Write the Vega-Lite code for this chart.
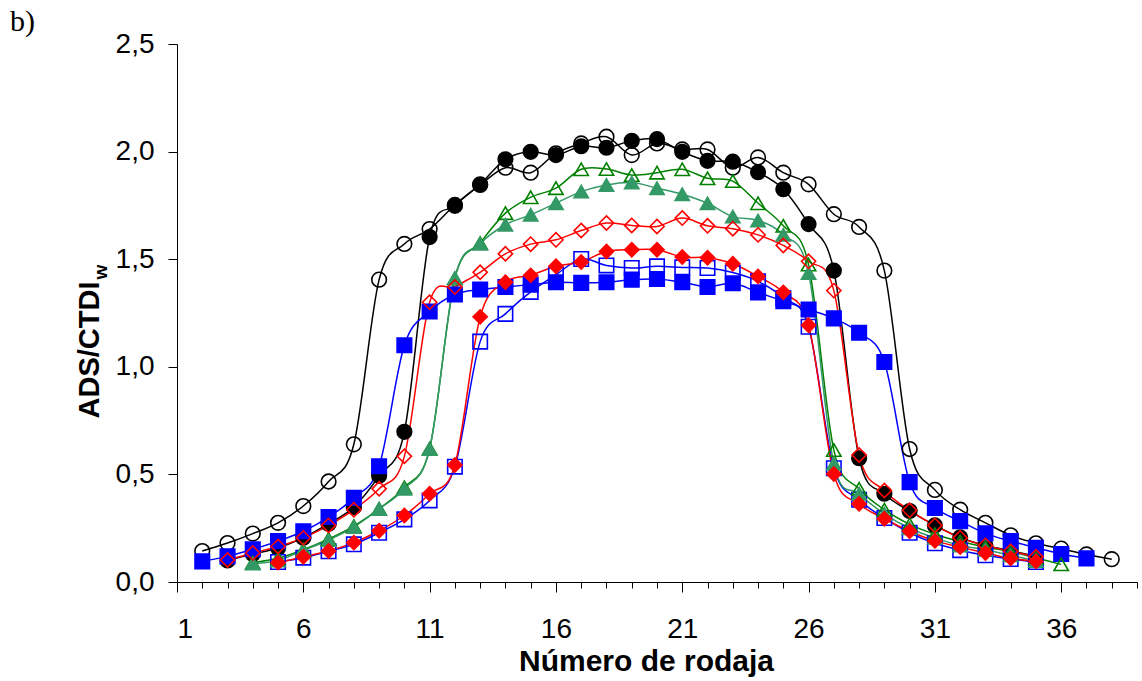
{
  "$schema": "https://vega.github.io/schema/vega-lite/v6.json",
  "width": 960,
  "height": 538,
  "autosize": {"type": "none"},
  "padding": {"left": 177, "top": 44, "right": 5, "bottom": 99},
  "background": "white",
  "config": {
    "view": {"stroke": null},
    "axis": {
      "grid": false,
      "domainColor": "black",
      "domainWidth": 1,
      "tickColor": "black",
      "tickWidth": 1,
      "labelColor": "black",
      "titleColor": "black",
      "labelFont": "Liberation Sans",
      "titleFont": "Liberation Sans",
      "labelOverlap": false
    },
    "axisX": {"labelOverlap": false}
  },
  "title": {
    "text": "b)",
    "font": "Liberation Serif",
    "fontSize": 30,
    "fontWeight": "normal",
    "color": "black",
    "anchor": "start",
    "frame": "group",
    "baseline": "alphabetic",
    "offset": 0,
    "dx": -167,
    "dy": 31
  },
  "data": {
    "values": [
      {"serie": "Serie 1", "x": 2, "y": 0.144}, {"serie": "Serie 1", "x": 3, "y": 0.181}, {"serie": "Serie 1", "x": 4, "y": 0.225}, {"serie": "Serie 1", "x": 5, "y": 0.275}, {"serie": "Serie 1", "x": 6, "y": 0.353}, {"serie": "Serie 1", "x": 7, "y": 0.467}, {"serie": "Serie 1", "x": 8, "y": 0.640}, {"serie": "Serie 1", "x": 9, "y": 1.405}, {"serie": "Serie 1", "x": 10, "y": 1.571}, {"serie": "Serie 1", "x": 11, "y": 1.640}, {"serie": "Serie 1", "x": 12, "y": 1.752}, {"serie": "Serie 1", "x": 13, "y": 1.845}, {"serie": "Serie 1", "x": 14, "y": 1.925}, {"serie": "Serie 1", "x": 15, "y": 1.902}, {"serie": "Serie 1", "x": 16, "y": 1.992}, {"serie": "Serie 1", "x": 17, "y": 2.038}, {"serie": "Serie 1", "x": 18, "y": 2.069}, {"serie": "Serie 1", "x": 19, "y": 1.984}, {"serie": "Serie 1", "x": 20, "y": 2.038}, {"serie": "Serie 1", "x": 21, "y": 2.010}, {"serie": "Serie 1", "x": 22, "y": 2.010}, {"serie": "Serie 1", "x": 23, "y": 1.925}, {"serie": "Serie 1", "x": 24, "y": 1.973}, {"serie": "Serie 1", "x": 25, "y": 1.902}, {"serie": "Serie 1", "x": 26, "y": 1.848}, {"serie": "Serie 1", "x": 27, "y": 1.709}, {"serie": "Serie 1", "x": 28, "y": 1.650}, {"serie": "Serie 1", "x": 29, "y": 1.447}, {"serie": "Serie 1", "x": 30, "y": 0.618}, {"serie": "Serie 1", "x": 31, "y": 0.428}, {"serie": "Serie 1", "x": 32, "y": 0.336}, {"serie": "Serie 1", "x": 33, "y": 0.275}, {"serie": "Serie 1", "x": 34, "y": 0.217}, {"serie": "Serie 1", "x": 35, "y": 0.180}, {"serie": "Serie 1", "x": 36, "y": 0.155}, {"serie": "Serie 1", "x": 37, "y": 0.128}, {"serie": "Serie 1", "x": 38, "y": 0.106},

      {"serie": "Serie 2", "x": 3, "y": 0.100}, {"serie": "Serie 2", "x": 4, "y": 0.130}, {"serie": "Serie 2", "x": 5, "y": 0.158}, {"serie": "Serie 2", "x": 6, "y": 0.206}, {"serie": "Serie 2", "x": 7, "y": 0.271}, {"serie": "Serie 2", "x": 8, "y": 0.348}, {"serie": "Serie 2", "x": 9, "y": 0.494}, {"serie": "Serie 2", "x": 10, "y": 0.698}, {"serie": "Serie 2", "x": 11, "y": 1.603}, {"serie": "Serie 2", "x": 12, "y": 1.748}, {"serie": "Serie 2", "x": 13, "y": 1.848}, {"serie": "Serie 2", "x": 14, "y": 1.964}, {"serie": "Serie 2", "x": 15, "y": 1.999}, {"serie": "Serie 2", "x": 16, "y": 1.984}, {"serie": "Serie 2", "x": 17, "y": 2.025}, {"serie": "Serie 2", "x": 18, "y": 2.018}, {"serie": "Serie 2", "x": 19, "y": 2.050}, {"serie": "Serie 2", "x": 20, "y": 2.058}, {"serie": "Serie 2", "x": 21, "y": 1.999}, {"serie": "Serie 2", "x": 22, "y": 1.957}, {"serie": "Serie 2", "x": 23, "y": 1.953}, {"serie": "Serie 2", "x": 24, "y": 1.904}, {"serie": "Serie 2", "x": 25, "y": 1.825}, {"serie": "Serie 2", "x": 26, "y": 1.663}, {"serie": "Serie 2", "x": 27, "y": 1.447}, {"serie": "Serie 2", "x": 28, "y": 0.575}, {"serie": "Serie 2", "x": 29, "y": 0.410}, {"serie": "Serie 2", "x": 30, "y": 0.330}, {"serie": "Serie 2", "x": 31, "y": 0.263}, {"serie": "Serie 2", "x": 32, "y": 0.207}, {"serie": "Serie 2", "x": 33, "y": 0.170}, {"serie": "Serie 2", "x": 34, "y": 0.145}, {"serie": "Serie 2", "x": 35, "y": 0.120},

      {"serie": "Serie 3", "x": 2, "y": 0.096}, {"serie": "Serie 3", "x": 3, "y": 0.119}, {"serie": "Serie 3", "x": 4, "y": 0.152}, {"serie": "Serie 3", "x": 5, "y": 0.190}, {"serie": "Serie 3", "x": 6, "y": 0.236}, {"serie": "Serie 3", "x": 7, "y": 0.302}, {"serie": "Serie 3", "x": 8, "y": 0.391}, {"serie": "Serie 3", "x": 9, "y": 0.538}, {"serie": "Serie 3", "x": 10, "y": 1.100}, {"serie": "Serie 3", "x": 11, "y": 1.257}, {"serie": "Serie 3", "x": 12, "y": 1.336}, {"serie": "Serie 3", "x": 13, "y": 1.359}, {"serie": "Serie 3", "x": 14, "y": 1.371}, {"serie": "Serie 3", "x": 15, "y": 1.382}, {"serie": "Serie 3", "x": 16, "y": 1.393}, {"serie": "Serie 3", "x": 17, "y": 1.390}, {"serie": "Serie 3", "x": 18, "y": 1.393}, {"serie": "Serie 3", "x": 19, "y": 1.405}, {"serie": "Serie 3", "x": 20, "y": 1.408}, {"serie": "Serie 3", "x": 21, "y": 1.393}, {"serie": "Serie 3", "x": 22, "y": 1.371}, {"serie": "Serie 3", "x": 23, "y": 1.388}, {"serie": "Serie 3", "x": 24, "y": 1.346}, {"serie": "Serie 3", "x": 25, "y": 1.305}, {"serie": "Serie 3", "x": 26, "y": 1.266}, {"serie": "Serie 3", "x": 27, "y": 1.225}, {"serie": "Serie 3", "x": 28, "y": 1.158}, {"serie": "Serie 3", "x": 29, "y": 1.022}, {"serie": "Serie 3", "x": 30, "y": 0.464}, {"serie": "Serie 3", "x": 31, "y": 0.344}, {"serie": "Serie 3", "x": 32, "y": 0.283}, {"serie": "Serie 3", "x": 33, "y": 0.226}, {"serie": "Serie 3", "x": 34, "y": 0.190}, {"serie": "Serie 3", "x": 35, "y": 0.159}, {"serie": "Serie 3", "x": 36, "y": 0.130}, {"serie": "Serie 3", "x": 37, "y": 0.110},

      {"serie": "Serie 4", "x": 5, "y": 0.093}, {"serie": "Serie 4", "x": 6, "y": 0.113}, {"serie": "Serie 4", "x": 7, "y": 0.143}, {"serie": "Serie 4", "x": 8, "y": 0.175}, {"serie": "Serie 4", "x": 9, "y": 0.229}, {"serie": "Serie 4", "x": 10, "y": 0.291}, {"serie": "Serie 4", "x": 11, "y": 0.379}, {"serie": "Serie 4", "x": 12, "y": 0.536}, {"serie": "Serie 4", "x": 13, "y": 1.117}, {"serie": "Serie 4", "x": 14, "y": 1.246}, {"serie": "Serie 4", "x": 15, "y": 1.348}, {"serie": "Serie 4", "x": 16, "y": 1.428}, {"serie": "Serie 4", "x": 17, "y": 1.501}, {"serie": "Serie 4", "x": 18, "y": 1.471}, {"serie": "Serie 4", "x": 19, "y": 1.459}, {"serie": "Serie 4", "x": 20, "y": 1.467}, {"serie": "Serie 4", "x": 21, "y": 1.462}, {"serie": "Serie 4", "x": 22, "y": 1.459}, {"serie": "Serie 4", "x": 23, "y": 1.438}, {"serie": "Serie 4", "x": 24, "y": 1.397}, {"serie": "Serie 4", "x": 25, "y": 1.320}, {"serie": "Serie 4", "x": 26, "y": 1.186}, {"serie": "Serie 4", "x": 27, "y": 0.529}, {"serie": "Serie 4", "x": 28, "y": 0.382}, {"serie": "Serie 4", "x": 29, "y": 0.297}, {"serie": "Serie 4", "x": 30, "y": 0.229}, {"serie": "Serie 4", "x": 31, "y": 0.180}, {"serie": "Serie 4", "x": 32, "y": 0.148}, {"serie": "Serie 4", "x": 33, "y": 0.124}, {"serie": "Serie 4", "x": 34, "y": 0.107}, {"serie": "Serie 4", "x": 35, "y": 0.093},

      {"serie": "Serie 5", "x": 4, "y": 0.090}, {"serie": "Serie 5", "x": 5, "y": 0.110}, {"serie": "Serie 5", "x": 6, "y": 0.150}, {"serie": "Serie 5", "x": 7, "y": 0.200}, {"serie": "Serie 5", "x": 8, "y": 0.260}, {"serie": "Serie 5", "x": 9, "y": 0.340}, {"serie": "Serie 5", "x": 10, "y": 0.440}, {"serie": "Serie 5", "x": 11, "y": 0.620}, {"serie": "Serie 5", "x": 12, "y": 1.410}, {"serie": "Serie 5", "x": 13, "y": 1.575}, {"serie": "Serie 5", "x": 14, "y": 1.714}, {"serie": "Serie 5", "x": 15, "y": 1.788}, {"serie": "Serie 5", "x": 16, "y": 1.830}, {"serie": "Serie 5", "x": 17, "y": 1.918}, {"serie": "Serie 5", "x": 18, "y": 1.919}, {"serie": "Serie 5", "x": 19, "y": 1.891}, {"serie": "Serie 5", "x": 20, "y": 1.902}, {"serie": "Serie 5", "x": 21, "y": 1.918}, {"serie": "Serie 5", "x": 22, "y": 1.876}, {"serie": "Serie 5", "x": 23, "y": 1.863}, {"serie": "Serie 5", "x": 24, "y": 1.760}, {"serie": "Serie 5", "x": 25, "y": 1.655}, {"serie": "Serie 5", "x": 26, "y": 1.475}, {"serie": "Serie 5", "x": 27, "y": 0.613}, {"serie": "Serie 5", "x": 28, "y": 0.433}, {"serie": "Serie 5", "x": 29, "y": 0.336}, {"serie": "Serie 5", "x": 30, "y": 0.268}, {"serie": "Serie 5", "x": 31, "y": 0.222}, {"serie": "Serie 5", "x": 32, "y": 0.188}, {"serie": "Serie 5", "x": 33, "y": 0.163}, {"serie": "Serie 5", "x": 34, "y": 0.140}, {"serie": "Serie 5", "x": 35, "y": 0.112}, {"serie": "Serie 5", "x": 36, "y": 0.082},

      {"serie": "Serie 6", "x": 4, "y": 0.086}, {"serie": "Serie 6", "x": 5, "y": 0.100}, {"serie": "Serie 6", "x": 6, "y": 0.147}, {"serie": "Serie 6", "x": 7, "y": 0.195}, {"serie": "Serie 6", "x": 8, "y": 0.255}, {"serie": "Serie 6", "x": 9, "y": 0.340}, {"serie": "Serie 6", "x": 10, "y": 0.433}, {"serie": "Serie 6", "x": 11, "y": 0.618}, {"serie": "Serie 6", "x": 12, "y": 1.413}, {"serie": "Serie 6", "x": 13, "y": 1.572}, {"serie": "Serie 6", "x": 14, "y": 1.660}, {"serie": "Serie 6", "x": 15, "y": 1.706}, {"serie": "Serie 6", "x": 16, "y": 1.760}, {"serie": "Serie 6", "x": 17, "y": 1.814}, {"serie": "Serie 6", "x": 18, "y": 1.845}, {"serie": "Serie 6", "x": 19, "y": 1.856}, {"serie": "Serie 6", "x": 20, "y": 1.830}, {"serie": "Serie 6", "x": 21, "y": 1.802}, {"serie": "Serie 6", "x": 22, "y": 1.760}, {"serie": "Serie 6", "x": 23, "y": 1.698}, {"serie": "Serie 6", "x": 24, "y": 1.680}, {"serie": "Serie 6", "x": 25, "y": 1.613}, {"serie": "Serie 6", "x": 26, "y": 1.436}, {"serie": "Serie 6", "x": 27, "y": 0.549}, {"serie": "Serie 6", "x": 28, "y": 0.410}, {"serie": "Serie 6", "x": 29, "y": 0.317}, {"serie": "Serie 6", "x": 30, "y": 0.250}, {"serie": "Serie 6", "x": 31, "y": 0.205}, {"serie": "Serie 6", "x": 32, "y": 0.170}, {"serie": "Serie 6", "x": 33, "y": 0.150}, {"serie": "Serie 6", "x": 34, "y": 0.124}, {"serie": "Serie 6", "x": 35, "y": 0.098},

      {"serie": "Serie 7", "x": 3, "y": 0.102}, {"serie": "Serie 7", "x": 4, "y": 0.135}, {"serie": "Serie 7", "x": 5, "y": 0.165}, {"serie": "Serie 7", "x": 6, "y": 0.205}, {"serie": "Serie 7", "x": 7, "y": 0.263}, {"serie": "Serie 7", "x": 8, "y": 0.336}, {"serie": "Serie 7", "x": 9, "y": 0.433}, {"serie": "Serie 7", "x": 10, "y": 0.584}, {"serie": "Serie 7", "x": 11, "y": 1.300}, {"serie": "Serie 7", "x": 12, "y": 1.371}, {"serie": "Serie 7", "x": 13, "y": 1.439}, {"serie": "Serie 7", "x": 14, "y": 1.525}, {"serie": "Serie 7", "x": 15, "y": 1.570}, {"serie": "Serie 7", "x": 16, "y": 1.590}, {"serie": "Serie 7", "x": 17, "y": 1.633}, {"serie": "Serie 7", "x": 18, "y": 1.668}, {"serie": "Serie 7", "x": 19, "y": 1.657}, {"serie": "Serie 7", "x": 20, "y": 1.652}, {"serie": "Serie 7", "x": 21, "y": 1.691}, {"serie": "Serie 7", "x": 22, "y": 1.655}, {"serie": "Serie 7", "x": 23, "y": 1.642}, {"serie": "Serie 7", "x": 24, "y": 1.613}, {"serie": "Serie 7", "x": 25, "y": 1.564}, {"serie": "Serie 7", "x": 26, "y": 1.490}, {"serie": "Serie 7", "x": 27, "y": 1.354}, {"serie": "Serie 7", "x": 28, "y": 0.590}, {"serie": "Serie 7", "x": 29, "y": 0.425}, {"serie": "Serie 7", "x": 30, "y": 0.333}, {"serie": "Serie 7", "x": 31, "y": 0.263}, {"serie": "Serie 7", "x": 32, "y": 0.205}, {"serie": "Serie 7", "x": 33, "y": 0.170}, {"serie": "Serie 7", "x": 34, "y": 0.143}, {"serie": "Serie 7", "x": 35, "y": 0.117},

      {"serie": "Serie 8", "x": 5, "y": 0.090}, {"serie": "Serie 8", "x": 6, "y": 0.117}, {"serie": "Serie 8", "x": 7, "y": 0.144}, {"serie": "Serie 8", "x": 8, "y": 0.183}, {"serie": "Serie 8", "x": 9, "y": 0.238}, {"serie": "Serie 8", "x": 10, "y": 0.309}, {"serie": "Serie 8", "x": 11, "y": 0.410}, {"serie": "Serie 8", "x": 12, "y": 0.544}, {"serie": "Serie 8", "x": 13, "y": 1.232}, {"serie": "Serie 8", "x": 14, "y": 1.393}, {"serie": "Serie 8", "x": 15, "y": 1.425}, {"serie": "Serie 8", "x": 16, "y": 1.467}, {"serie": "Serie 8", "x": 17, "y": 1.487}, {"serie": "Serie 8", "x": 18, "y": 1.536}, {"serie": "Serie 8", "x": 19, "y": 1.544}, {"serie": "Serie 8", "x": 20, "y": 1.544}, {"serie": "Serie 8", "x": 21, "y": 1.510}, {"serie": "Serie 8", "x": 22, "y": 1.507}, {"serie": "Serie 8", "x": 23, "y": 1.479}, {"serie": "Serie 8", "x": 24, "y": 1.420}, {"serie": "Serie 8", "x": 25, "y": 1.346}, {"serie": "Serie 8", "x": 26, "y": 1.193}, {"serie": "Serie 8", "x": 27, "y": 0.502}, {"serie": "Serie 8", "x": 28, "y": 0.363}, {"serie": "Serie 8", "x": 29, "y": 0.294}, {"serie": "Serie 8", "x": 30, "y": 0.236}, {"serie": "Serie 8", "x": 31, "y": 0.191}, {"serie": "Serie 8", "x": 32, "y": 0.162}, {"serie": "Serie 8", "x": 33, "y": 0.135}, {"serie": "Serie 8", "x": 34, "y": 0.110}, {"serie": "Serie 8", "x": 35, "y": 0.096}
    ]
  },
  "layer": [
    {
      "mark": {"type": "line", "interpolate": "cardinal", "strokeWidth": 1.5},
      "encoding": {
        "x": {
          "field": "x",
          "type": "quantitative",
          "scale": {"domain": [1, 39], "nice": false, "zero": false},
          "axis": {
            "values": [1, 2, 3, 4, 5, 6, 7, 8, 9, 10, 11, 12, 13, 14, 15, 16, 17, 18, 19, 20, 21, 22, 23, 24, 25, 26, 27, 28, 29, 30, 31, 32, 33, 34, 35, 36, 37, 38, 39],
            "labelExpr": "(datum.value - 1) % 5 === 0 ? datum.label : ''",
            "labelOverlap": false,
            "labelFontSize": 28,
            "labelBaseline": "alphabetic",
            "labelPadding": 45,
            "tickSize": {"condition": {"test": "(datum.value - 1) % 5 === 0", "value": 10}, "value": 6},
            "title": "Número de rodaja",
            "titleFontSize": 30,
            "titleFontWeight": "bold",
            "titleAlign": "center",
            "titleBaseline": "alphabetic",
            "titleX": 469,
            "titleY": 88
          }
        },
        "y": {
          "field": "y",
          "type": "quantitative",
          "scale": {"domain": [0, 2.5], "nice": false},
          "axis": {
            "values": [0, 0.5, 1, 1.5, 2, 2.5],
            "labelExpr": "replace(format(datum.value, '.1f'), '.', ',')",
            "labelFontSize": 28,
            "tickSize": 9,
            "labelPadding": 14,
            "title": "ADS/CTDI",
            "titleFontSize": 29,
            "titleFontWeight": "bold",
            "titleAngle": -90,
            "titleAlign": "left",
            "titleBaseline": "alphabetic",
            "titleX": -79,
            "titleY": 374
          }
        },
        "stroke": {
          "field": "serie",
          "type": "nominal",
          "scale": {
            "domain": ["Serie 1", "Serie 2", "Serie 3", "Serie 4", "Serie 5", "Serie 6", "Serie 7", "Serie 8"],
            "range": ["#000000", "#000000", "#0000ff", "#0000ff", "#008000", "#339966", "#ff0000", "#ff0000"]
          },
          "legend": null
        }
      }
    },
    {
      "mark": {"type": "point", "filled": true, "opacity": 1, "strokeWidth": 1.6},
      "encoding": {
        "x": {
          "field": "x",
          "type": "quantitative",
          "axis": {
            "values": [1, 2, 3, 4, 5, 6, 7, 8, 9, 10, 11, 12, 13, 14, 15, 16, 17, 18, 19, 20, 21, 22, 23, 24, 25, 26, 27, 28, 29, 30, 31, 32, 33, 34, 35, 36, 37, 38, 39],
            "labelExpr": "(datum.value - 1) % 5 === 0 ? datum.label : ''",
            "labelOverlap": false
          }
        },
        "y": {
          "field": "y",
          "type": "quantitative",
          "axis": {
            "orient": "left",
            "domain": false,
            "ticks": false,
            "labels": false,
            "grid": false,
            "title": "w",
            "titleFontSize": 19,
            "titleFontWeight": "bold",
            "titleAngle": -90,
            "titleAlign": "left",
            "titleBaseline": "alphabetic",
            "titleX": -71,
            "titleY": 235
          }
        },
        "stroke": {"field": "serie", "type": "nominal", "legend": null},
        "fill": {
          "field": "serie",
          "type": "nominal",
          "scale": {
            "domain": ["Serie 1", "Serie 2", "Serie 3", "Serie 4", "Serie 5", "Serie 6", "Serie 7", "Serie 8"],
            "range": ["transparent", "#000000", "#0000ff", "transparent", "transparent", "#339966", "transparent", "#ff0000"]
          },
          "legend": null
        },
        "shape": {
          "field": "serie",
          "type": "nominal",
          "scale": {
            "domain": ["Serie 1", "Serie 2", "Serie 3", "Serie 4", "Serie 5", "Serie 6", "Serie 7", "Serie 8"],
            "range": ["circle", "circle", "square", "square", "triangle-up", "triangle-up", "diamond", "diamond"]
          },
          "legend": null
        },
        "size": {
          "field": "serie",
          "type": "nominal",
          "scale": {
            "domain": ["Serie 1", "Serie 2", "Serie 3", "Serie 4", "Serie 5", "Serie 6", "Serie 7", "Serie 8"],
            "range": [215, 200, 190, 165, 190, 190, 175, 175]
          },
          "legend": null
        }
      }
    }
  ],
  "resolve": {"axis": {"y": "independent"}}
}
